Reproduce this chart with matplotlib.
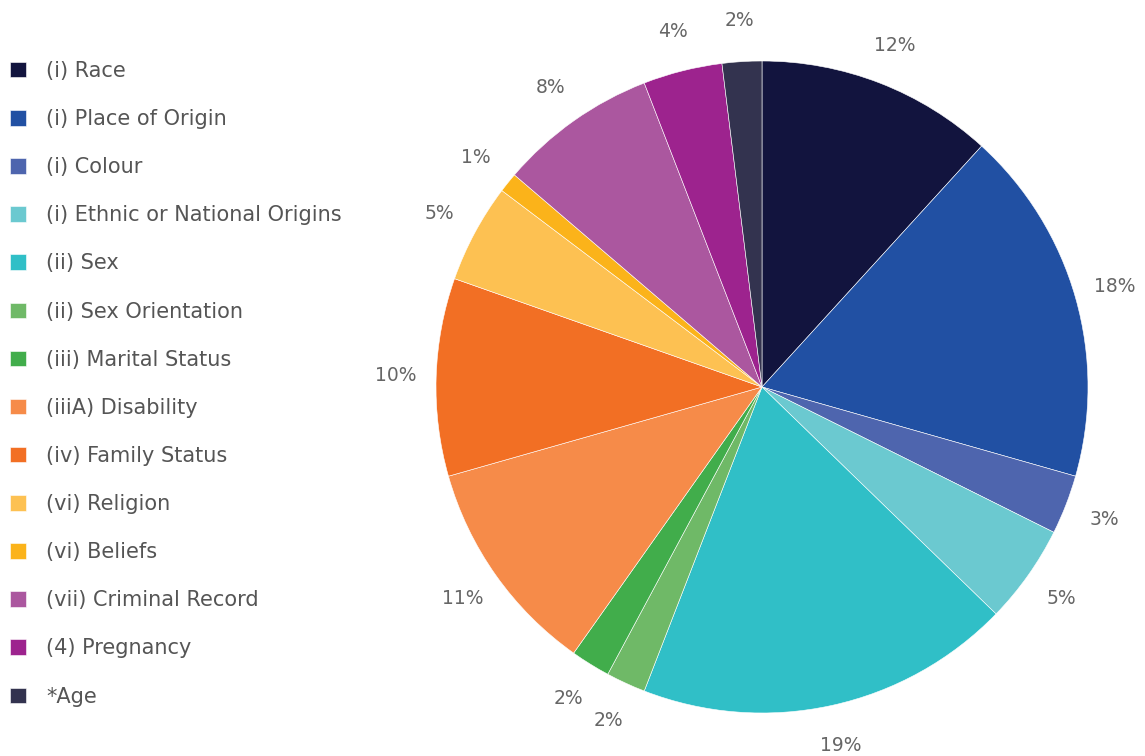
import matplotlib
matplotlib.use("Agg")
import matplotlib.pyplot as plt

plt.rcParams['font.family'] = ['DejaVu Sans']

# 各类别及其占比（按顺时针方向，从正上方开始）
categories = ["(i) Race", "(i) Place of Origin", "(i) Colour",
              "(i) Ethnic or National Origins", "(ii) Sex",
              "(ii) Sex Orientation", "(iii) Marital Status",
              "(iiiA) Disability", "(iv) Family Status", "(vi) Religion",
              "(vi) Beliefs", "(vii) Criminal Record", "(4) Pregnancy", "*Age"]
values = [12, 18, 3, 5, 19, 2, 2, 11, 10, 5, 1, 8, 4, 2]
colors = ["#12143e", "#2150a3", "#4e65ae", "#6bc9d0", "#30bfc7",
          "#6fb967", "#41ad4b", "#f68b49", "#f26f24", "#fdc152",
          "#fbb31a", "#ab579f", "#9d238e", "#33334f"]
pct_labels = ["%d%%" % v for v in values]

W, H = 1145, 756
fig = plt.figure(figsize=(W / 100, H / 100), dpi=100)

# 饼图区域：圆心 (762, 387)，半径 326 像素
cx, cy, r = 762, 387, 326
ax = fig.add_axes([(cx - r) / W, (H - cy - r) / H, 2 * r / W, 2 * r / H])
wedges, texts = ax.pie(values, labels=pct_labels, colors=colors,
                       startangle=90, counterclock=False, labeldistance=1.125,
                       wedgeprops=dict(edgecolor="white", linewidth=0.4),
                       textprops=dict(color="#666666", fontsize=13.5))
for t in texts:
    t.set_ha("center")
    t.set_va("center")
ax.set_xlim(-1, 1)
ax.set_ylim(-1, 1)
ax.axis("off")

# 图例
fs = 15
fs_px = fs * 100 / 72
fig.legend(wedges, categories, loc="upper left",
           bbox_to_anchor=(10 / W, 1 - 61 / H), frameon=False,
           fontsize=fs, labelcolor="#555555",
           handlelength=16 / fs_px, handleheight=16 / fs_px,
           handletextpad=20 / fs_px,
           labelspacing=1.35, borderpad=0, borderaxespad=0)

fig.savefig("out.png", dpi=100)
